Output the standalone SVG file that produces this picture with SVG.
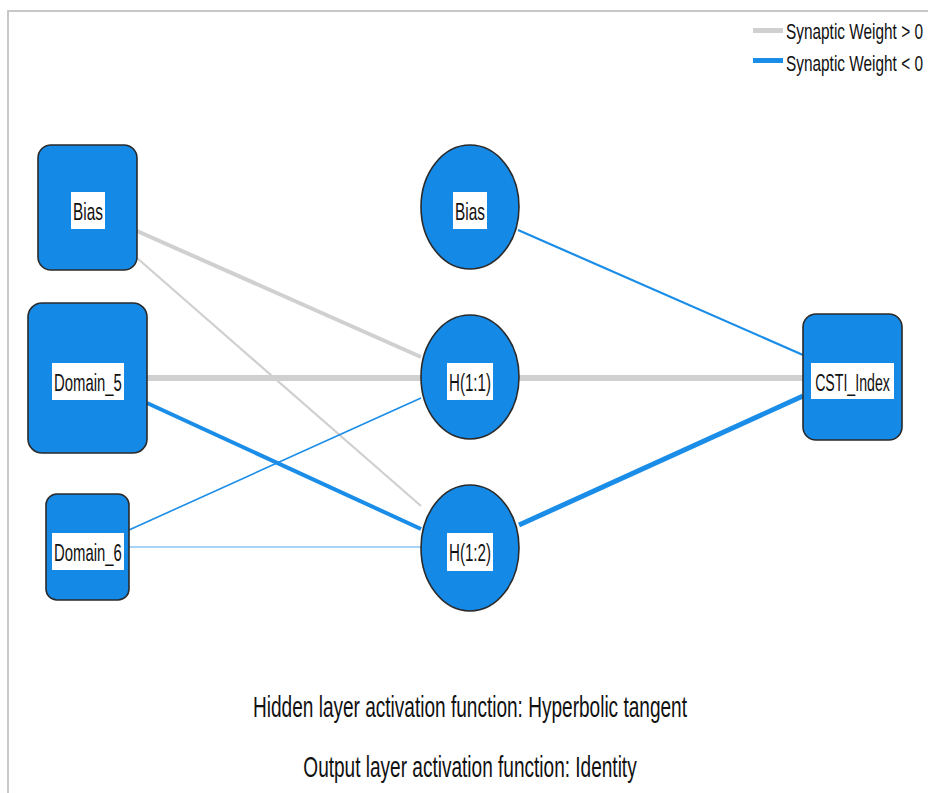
<svg xmlns="http://www.w3.org/2000/svg" width="928" height="793" viewBox="0 0 928 793">
  <style>
    text { font-family: "Liberation Sans", Arial, sans-serif; fill: #111; }
    .node { fill: #1589e6; stroke: #2a2a2a; stroke-width: 1.6; }
    .lbl { fill: #ffffff; }
    .nt { font-size: 24px; text-anchor: middle; }
    .pos { stroke: #d0d0d0; fill: none; }
    .neg { stroke: #1a8de8; fill: none; }
    .negl { stroke: #a6d3f6; fill: none; }
    .cap { font-size: 29px; text-anchor: middle; }
    .leg { font-size: 22px; }
  </style>

  <rect width="928" height="793" fill="#ffffff"/>
  <!-- frame -->
  <path d="M8 793 V11 H928" fill="none" stroke="#c8c8c8" stroke-width="2"/>

  <!-- legend -->
  <g id="legend">
    <rect x="753" y="28" width="30" height="5" fill="#d0d0d0"/>
    <text class="leg" transform="translate(786 39) scale(0.7 1)">Synaptic Weight &gt; 0</text>
    <rect x="753" y="58" width="30" height="5" fill="#1a8de8"/>
    <text class="leg" transform="translate(786 71) scale(0.7 1)">Synaptic Weight &lt; 0</text>
  </g>

  <!-- connectors -->
  <g id="connectors">
    <line class="pos" x1="137" y1="231" x2="421" y2="357" stroke-width="4"/>
    <line class="pos" x1="137" y1="258" x2="421" y2="506" stroke-width="2.2"/>
    <line class="pos" x1="147" y1="378" x2="421" y2="378" stroke-width="6"/>
    <line class="neg" x1="147" y1="403" x2="421" y2="529" stroke-width="4"/>
    <line class="neg" x1="129" y1="530" x2="421" y2="398" stroke-width="1.6"/>
    <line class="negl" x1="129" y1="547" x2="421" y2="547" stroke-width="2.2"/>
    <line class="neg" x1="518" y1="230" x2="803" y2="355" stroke-width="2.2"/>
    <line class="pos" x1="519" y1="378" x2="803" y2="378" stroke-width="6"/>
    <line class="neg" x1="519" y1="525" x2="803" y2="396" stroke-width="5"/>
  </g>

  <!-- input layer -->
  <g id="in_bias">
    <rect class="node" x="38" y="145" width="99" height="125" rx="13"/>
    <rect class="lbl" x="71" y="192" width="34" height="37"/>
    <text class="nt" transform="translate(88 220) scale(0.64 1)">Bias</text>
  </g>
  <g id="in_domain5">
    <rect class="node" x="28" y="303" width="119" height="150" rx="14"/>
    <rect class="lbl" x="52" y="363" width="72" height="37"/>
    <text class="nt" transform="translate(88 391) scale(0.62 1)">Domain_5</text>
  </g>
  <g id="in_domain6">
    <rect class="node" x="46" y="494" width="83" height="106" rx="11"/>
    <rect class="lbl" x="52" y="533" width="72" height="37"/>
    <text class="nt" transform="translate(88 561) scale(0.62 1)">Domain_6</text>
  </g>

  <!-- hidden layer -->
  <g id="hid_bias">
    <ellipse class="node" cx="470" cy="207" rx="49" ry="62"/>
    <rect class="lbl" x="453" y="192" width="34" height="37"/>
    <text class="nt" transform="translate(470 220) scale(0.64 1)">Bias</text>
  </g>
  <g id="h11">
    <ellipse class="node" cx="470" cy="377" rx="49" ry="62"/>
    <rect class="lbl" x="447" y="363" width="46" height="37"/>
    <text class="nt" transform="translate(470 391) scale(0.63 1)">H(1:1)</text>
  </g>
  <g id="h12">
    <ellipse class="node" cx="470" cy="548" rx="49" ry="63"/>
    <rect class="lbl" x="447" y="533" width="46" height="38"/>
    <text class="nt" transform="translate(470 561) scale(0.63 1)">H(1:2)</text>
  </g>

  <!-- output layer -->
  <g id="out_csti">
    <rect class="node" x="803" y="314" width="99" height="126" rx="13"/>
    <rect class="lbl" x="811" y="363" width="83" height="36"/>
    <text class="nt" transform="translate(852.5 391) scale(0.59 1)">CSTI_Index</text>
  </g>

  <!-- captions -->
  <text class="cap" transform="translate(470 717) scale(0.657 1)">Hidden layer activation function: Hyperbolic tangent</text>
  <text class="cap" transform="translate(470 777) scale(0.657 1)">Output layer activation function: Identity</text>
</svg>
